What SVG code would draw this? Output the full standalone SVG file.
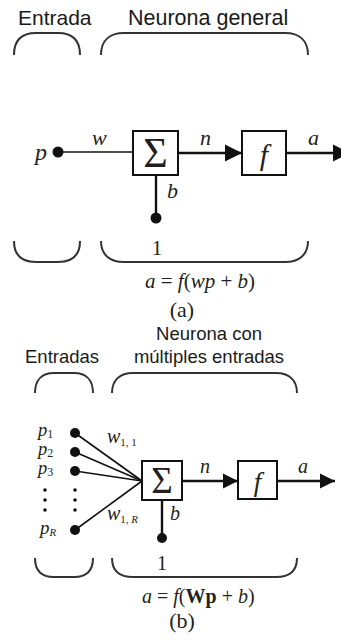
<svg xmlns="http://www.w3.org/2000/svg" width="341" height="642" viewBox="0 0 341 642">
<defs>
<marker id="ah" viewBox="0 0 10 10" refX="10" refY="5" markerWidth="17" markerHeight="18" markerUnits="userSpaceOnUse" orient="auto" overflow="visible">
<path d="M0,0 L10,5 L0,10 Z" fill="#111"/>
</marker>
<marker id="ah2" viewBox="0 0 10 10" refX="10" refY="5" markerWidth="15" markerHeight="16" markerUnits="userSpaceOnUse" orient="auto" overflow="visible">
<path d="M0,0 L10,5 L0,10 Z" fill="#111"/>
</marker>
</defs>
<style>
.hd{font-family:"Liberation Sans",Arial,sans-serif;fill:#1a1a1a}
.br{fill:none;stroke:#333;stroke-width:2}
.ln{fill:none;stroke:#111;stroke-width:1.6}
.lt{fill:none;stroke:#111;stroke-width:2.4}
.bx{fill:#fff;stroke:#111;stroke-width:2}
.dot{fill:#111}
.m{font-family:"Liberation Serif","Times New Roman",serif;fill:#231f20}
.i{font-style:italic}
</style>
<rect width="341" height="642" fill="#fff"/>

<!-- (a) -->
<g id="a-headers">
<text class="hd" x="18" y="25" font-size="21">Entrada</text>
<text class="hd" x="128" y="25" font-size="21.5">Neurona general</text>
<path class="br" d="M14,55 C14,40 22,33 36,33 L58,33 C72,33 80,40 80,55"/>
<path class="br" d="M101,55 C101,40 110,33 124,33 L285,33 C299,33 308,40 308,55"/>
<path class="br" d="M14,241 C14,255 22,262 36,262 L58,262 C72,262 80,255 80,241"/>
<path class="br" d="M101,241 C101,255 110,262 124,262 L285,262 C299,262 308,255 308,241"/>
</g>
<g id="a-connectors">
<line class="ln" x1="58" y1="152" x2="133" y2="152"/>
<line class="lt" x1="178" y1="153" x2="242" y2="153" marker-end="url(#ah)"/>
<line class="lt" x1="286" y1="153" x2="350" y2="153" marker-end="url(#ah)"/>
<line class="lt" x1="156" y1="175" x2="156" y2="218"/>
</g>
<g id="a-input">
<circle class="dot" cx="58" cy="152" r="5.5"/>
<text class="m i" x="35" y="160" font-size="24">p</text>
<text class="m i" x="92" y="145" font-size="22">w</text>
</g>
<g id="a-sum">
<rect class="bx" x="133" y="131" width="45" height="44"/>
<text class="m" x="155.5" y="167" font-size="42" text-anchor="middle">Σ</text>
<text class="m i" x="200" y="145" font-size="22">n</text>
</g>
<g id="a-f">
<rect class="bx" x="242" y="131" width="44" height="44"/>
<text class="m i" x="264" y="165" font-size="30" text-anchor="middle">f</text>
<text class="m i" x="308" y="145" font-size="22">a</text>
</g>
<g id="a-bias">
<text class="m i" x="167" y="198" font-size="22">b</text>
<circle class="dot" cx="156" cy="218" r="5.5"/>
<text class="m" x="157" y="255" font-size="21" text-anchor="middle">1</text>
</g>
<g id="a-formula">
<text class="m" x="145" y="288" font-size="21"><tspan class="i">a</tspan> = <tspan class="i">f</tspan>(<tspan class="i">wp</tspan> + <tspan class="i">b</tspan>)</text>
<text class="m" x="182" y="317" font-size="22" text-anchor="middle">(a)</text>
</g>

<!-- (b) -->
<g id="b-headers">
<text class="hd" x="209" y="340" font-size="18.5" text-anchor="middle">Neurona con</text>
<text class="hd" x="209" y="363" font-size="18.5" text-anchor="middle">múltiples entradas</text>
<text class="hd" x="25" y="363" font-size="18.5">Entradas</text>
<path class="br" d="M35,393 C35,380 42,373 54,373 L74,373 C86,373 93,380 93,393"/>
<path class="br" d="M112,393 C112,380 120,373 133,373 L276,373 C289,373 297,380 297,393"/>
<path class="br" d="M35,558 C35,571 42,577 54,577 L74,577 C86,577 93,571 93,558"/>
<path class="br" d="M112,558 C112,571 120,577 133,577 L276,577 C289,577 297,571 297,558"/>
</g>
<g id="b-connectors">
<line class="ln" x1="75" y1="433" x2="142" y2="481"/>
<line class="ln" x1="75" y1="452" x2="142" y2="481"/>
<line class="ln" x1="75" y1="471" x2="142" y2="481"/>
<line class="ln" x1="75" y1="530" x2="142" y2="481"/>
<line class="lt" x1="182" y1="481" x2="238" y2="481" marker-end="url(#ah2)"/>
<line class="lt" x1="277" y1="481" x2="335" y2="481" marker-end="url(#ah2)"/>
<line class="lt" x1="162" y1="500" x2="162" y2="538"/>
</g>
<g id="b-inputs">
<circle class="dot" cx="75" cy="433" r="5"/>
<circle class="dot" cx="75" cy="452" r="5"/>
<circle class="dot" cx="75" cy="471" r="5"/>
<circle class="dot" cx="75" cy="530" r="5"/>
<circle class="dot" cx="45" cy="490" r="1.8"/>
<circle class="dot" cx="45" cy="500" r="1.8"/>
<circle class="dot" cx="45" cy="510" r="1.8"/>
<circle class="dot" cx="75" cy="490" r="1.8"/>
<circle class="dot" cx="75" cy="500" r="1.8"/>
<circle class="dot" cx="75" cy="510" r="1.8"/>
<text class="m" x="38" y="436" font-size="18.5"><tspan class="i">p</tspan><tspan font-size="12" dy="2">1</tspan></text>
<text class="m" x="38" y="455" font-size="18.5"><tspan class="i">p</tspan><tspan font-size="12" dy="2">2</tspan></text>
<text class="m" x="38" y="474" font-size="18.5"><tspan class="i">p</tspan><tspan font-size="12" dy="2">3</tspan></text>
<text class="m" x="40" y="534" font-size="19"><tspan class="i">p</tspan><tspan class="i" font-size="11" dy="2">R</tspan></text>
<text class="m" x="107" y="443" font-size="20"><tspan class="i">w</tspan><tspan font-size="11" dy="3">1, 1</tspan></text>
<text class="m" x="107" y="520" font-size="20"><tspan class="i">w</tspan><tspan font-size="11" dy="3">1, <tspan class="i">R</tspan></tspan></text>
</g>
<g id="b-sum">
<rect class="bx" x="142" y="461" width="40" height="39"/>
<text class="m" x="162" y="493" font-size="37" text-anchor="middle">Σ</text>
<text class="m i" x="200" y="473" font-size="20">n</text>
</g>
<g id="b-f">
<rect class="bx" x="238" y="461" width="39" height="38"/>
<text class="m i" x="257.5" y="491" font-size="27" text-anchor="middle">f</text>
<text class="m i" x="298" y="473" font-size="20">a</text>
</g>
<g id="b-bias">
<text class="m i" x="170" y="520" font-size="20">b</text>
<circle class="dot" cx="162" cy="538" r="5"/>
<text class="m" x="162" y="570" font-size="20" text-anchor="middle">1</text>
</g>
<g id="b-formula">
<text class="m" x="142" y="603" font-size="20"><tspan class="i">a</tspan> = <tspan class="i">f</tspan>(<tspan font-weight="bold">Wp</tspan> + <tspan class="i">b</tspan>)</text>
<text class="m" x="182" y="628" font-size="22" text-anchor="middle">(b)</text>
</g>
</svg>
